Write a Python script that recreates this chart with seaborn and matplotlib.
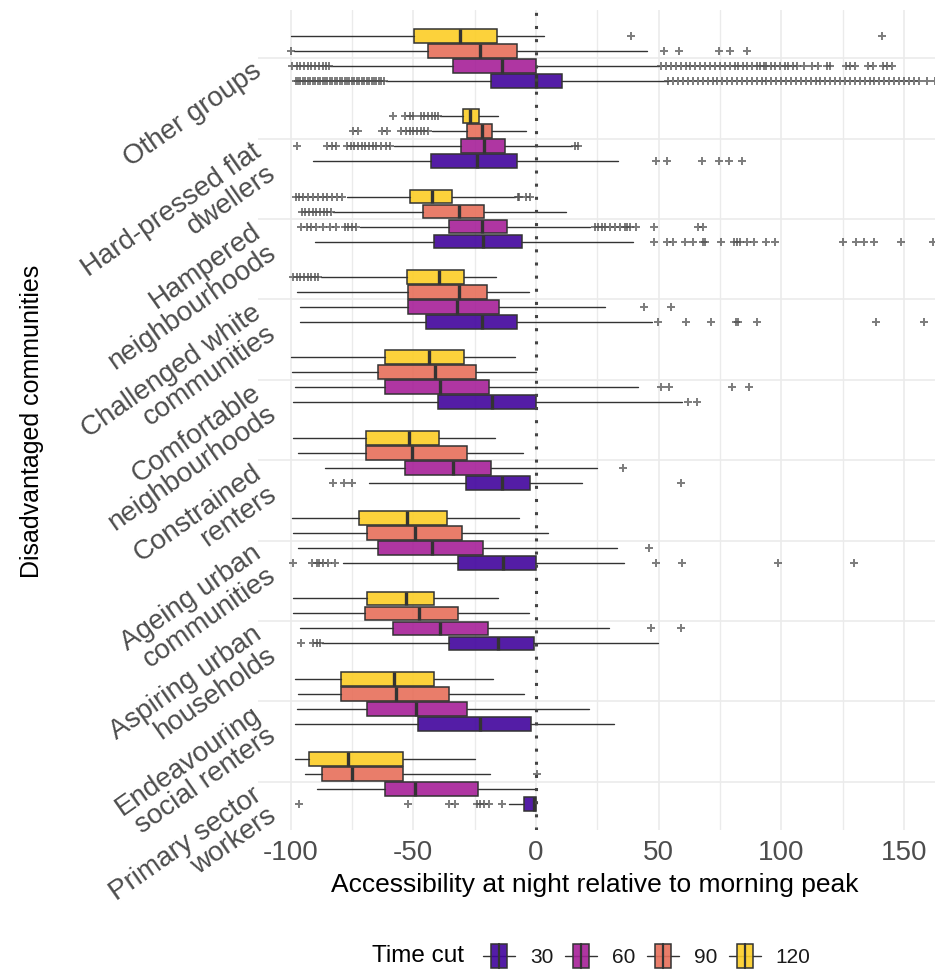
import matplotlib
matplotlib.use("Agg")
import matplotlib.pyplot as plt
import seaborn as sns
from matplotlib.patches import Rectangle
from matplotlib.lines import Line2D
from matplotlib.legend_handler import HandlerBase
from matplotlib.ticker import FixedLocator

sns.set_theme(style="whitegrid")
plt.rcParams["font.family"] = ["Liberation Sans", "DejaVu Sans"]
plt.rcParams["axes.unicode_minus"] = False

# ---------------- data ----------------
categories = [
    "Other groups", "Hard-pressed flat\ndwellers", "Hampered\nneighbourhoods",
    "Challenged white\ncommunities", "Comfortable\nneighbourhoods", "Constrained\nrenters",
    "Ageing urban\ncommunities", "Aspiring urban\nhouseholds", "Endeavouring\nsocial renters",
    "Primary sector\nworkers",
]
time_cuts = ["30", "60", "90", "120"]

# time cut 30
lo_30 = [-61, -90.8, -90.1, -96.2, -98.9, -68, -78.5, -87.4, -98.2, -10.9]
q1_30 = [-18.5, -42.8, -41.5, -44.8, -40.1, -28.5, -31.9, -35.3, -48, -4.9]
med_30 = [0, -24.2, -21.5, -22.1, -18.1, -14, -13.3, -15.4, -22.8, -0.6]
q3_30 = [10.5, -7.6, -5.8, -7.6, 0, -2.3, 0, -0.8, -2.2, 0]
hi_30 = [54, 33.6, 39.7, 47.2, 59.4, 18.9, 35.9, 49.9, 31.8, 0]
# time cut 60
lo_60 = [-84, -58, -71.7, -96.2, -98.2, -86, -96.9, -96.2, -97.6, -89.4]
q1_60 = [-34, -30.6, -35.3, -52, -61.6, -53.4, -64.3, -58.2, -68.8, -61.6]
med_60 = [-14, -21.1, -22.1, -32.3, -39.1, -33.7, -42.5, -39.1, -48.9, -49.1]
q3_60 = [0, -12.4, -11.7, -15.1, -19, -18.5, -21.7, -19.7, -27.9, -23.8]
hi_60 = [50.3, 14.8, 22, 28.1, 41.7, 25.1, 33.1, 29.8, 21.7, 0]
# time cut 90
lo_90 = [-98.5, -42.5, -82.6, -97.6, -99.6, -96.9, -98.9, -98.9, -96.9, -94.2]
q1_90 = [-44, -27.9, -45.9, -52, -64.3, -69.4, -68.8, -69.7, -79.6, -87.1]
med_90 = [-22.8, -21.9, -31.4, -31.4, -41.2, -50.4, -49.3, -47.7, -57.2, -74.9]
q3_90 = [-7.6, -17.8, -21.2, -19.9, -24.5, -27.9, -30, -31.9, -35.3, -54.1]
hi_90 = [45.1, -4.1, 12.1, -2.7, 0, -5.4, 4.8, -2.7, -4.8, -18.8]
# time cut 120
lo_120 = [-100, -39.1, -77.2, -87.5, -100, -98.9, -99.6, -98.9, -98.2, -98.2]
q1_120 = [-49.6, -29.9, -51.4, -52.7, -61.6, -69.4, -72.2, -69, -79.6, -92.4]
med_120 = [-31, -26.9, -42.3, -39.5, -43.5, -51.8, -52.7, -53.1, -57.9, -76.5]
q3_120 = [-15.8, -23.1, -34.1, -29.4, -29.2, -39.5, -36.2, -41.5, -41.5, -54.1]
hi_120 = [3.4, -15.4, -8.5, -16.3, -8.6, -16.7, -6.8, -15.4, -17.4, -24.9]

# outliers, one list per category
fliers_30 = [
    [-98, -97, -96, -95, -94, -93, -92, -91, -90, -89, -88, -87, -86, -85, -84, -83, -82, -81,
     -80, -79, -78, -77, -76, -75, -74, -73, -72, -71, -70, -69, -68, -67, -66, -65, -64, -63, -62,
     54, 56, 58, 60, 62, 64, 66, 68, 70, 72, 74, 76, 78, 80, 82, 84, 86, 88, 90, 92, 94, 96, 98,
     100, 102, 104, 106, 108, 110, 112, 114, 116, 118, 120, 122, 124, 126, 128, 130, 132, 134,
     136, 138, 140, 142, 144, 146, 148, 150, 152, 154, 156, 159.4, 162.6],
    [48.9, 53.5, 67.8, 74.6, 78.7, 84],
    [48.2, 53.3, 56, 60.7, 63.9, 68, 68.9, 75.3, 80.7, 82, 83.2, 85.9, 88.9, 94, 97.4, 125,
     130.5, 133.8, 137.9, 148.7, 162],
    [49.6, 61, 71.2, 81.5, 82.5, 90.1, 138.6, 158.2],
    [61.8, 65.8],
    [-82.6, -78.1, -75.1, 59.1],
    [-98.9, -91.4, -89.4, -88.3, -86.7, -84.7, -81.9, 48.9, 59.6, 98.8, 129.8],
    [-95.9, -90.8, -89.4, -88],
    [],
    [-96.6, -52, -35.5, -33, -24.2, -22.8, -21.2, -19, -14],
]
fliers_60 = [
    [-99.6, -97.5, -96, -94.5, -93, -91.5, -90, -88.5, -87, -85.5, -84.5,
     51, 53, 55, 57, 59, 61, 63, 65, 67, 69, 71, 73, 75, 77, 79, 81, 82.5, 84.5, 85.9, 87.9,
     90, 91.5, 93, 94, 96, 97.4, 99.5, 101.5, 102.9, 104.9, 106.3, 109.2, 112.4, 115.1, 118.5,
     119.9, 126.4, 128, 130, 135.5, 137.5, 141.3, 143, 145],
    [-97.3, -85.3, -83.3, -81.3, -77, -75.5, -74, -72.5, -71, -69.5, -68, -66.5, -65, -63,
     -61, -59.5, 16, 17.2],
    [-95.6, -93.5, -91.5, -89.5, -87, -84, -81.5, -78, -76.5, -75, -73.5,
     24, 25.4, 26.8, 28.1, 30.2, 32.2, 34.2, 36.3, 37.3, 38.3, 40.8, 48.2, 66.2, 68.2],
    [44.2, 55],
    [51, 54.3, 79.9, 86.7],
    [35.5],
    [46.2],
    [46.9, 59.1],
    [],
    [],
]
fliers_90 = [
    [-100, 52.3, 58.3, 74.6, 79.2, 86.0],
    [-74.7, -72.4, -62.9, -60.9, -54.8, -53, -51.5, -50, -48.5, -47, -45.5, -44],
    [-95.5, -94, -92.5, -91, -89.5, -88, -86.5, -85, -83.5],
    [], [], [], [], [], [],
    [0.3],
]
fliers_120 = [
    [38.7, 141],
    [-58.2, -53.4, -51.4, -50, -47, -45.5, -44, -42.5, -41, -40],
    [-98, -96.5, -95, -93, -91, -89, -87, -85, -83, -81, -79, -7.3, -6.8, -4, -2.5],
    [-99, -97.5, -96, -94.5, -93, -91.5, -90, -88.7],
    [], [], [], [], [], [],
]

x_ticks = [-100, -50, 0, 50, 100, 150]
x_minor = [-75, -25, 25, 75, 125]

# ---------------- styling ----------------
cmap = sns.color_palette("plasma", as_cmap=True)
hue_colors = [cmap(v) for v in (0.1, 0.3667, 0.6333, 0.9)]
hue_offsets = [0.28, 0.0933, -0.0933, -0.28]   # y inverted: 30 lowest, 120 highest
box_h = 0.172
edge = "#333333"

W, H = 935, 972
fig = plt.figure(figsize=(W / 100, H / 100), dpi=100)
fig.patch.set_facecolor("white")
ax = fig.add_axes([258 / W, 1 - 830 / H, 1 - 258 / W, 820 / H])
ax.set_facecolor("white")

series = [
    (lo_30, q1_30, med_30, q3_30, hi_30, fliers_30),
    (lo_60, q1_60, med_60, q3_60, hi_60, fliers_60),
    (lo_90, q1_90, med_90, q3_90, hi_90, fliers_90),
    (lo_120, q1_120, med_120, q3_120, hi_120, fliers_120),
]

for k, (lo, q1, md, q3, hi, fl) in enumerate(series):
    stats = []
    for i in range(len(categories)):
        stats.append(dict(whislo=lo[i], q1=q1[i], med=md[i], q3=q3[i], whishi=hi[i],
                          fliers=fl[i], label=categories[i]))
    pos = [i + hue_offsets[k] for i in range(len(categories))]
    fc = (*hue_colors[k][:3], 0.9)
    ax.bxp(stats, positions=pos, widths=box_h, orientation="horizontal",
           patch_artist=True, showcaps=False, manage_ticks=False,
           boxprops=dict(facecolor=fc, edgecolor=edge, linewidth=1.1),
           medianprops=dict(color=edge, linewidth=2.4, solid_capstyle="butt"),
           whiskerprops=dict(color=edge, linewidth=1.0),
           flierprops=dict(marker="+", markersize=5.5, markeredgecolor="#505050",
                           markeredgewidth=1.4, alpha=0.75, linestyle="none"))

ax.axvline(0, color="#444444", linewidth=2.2, linestyle=(0, (1, 3.3)), zorder=5)

ax.set_xlim(-113.3, 162.7)
ax.set_ylim(9.6, -0.6)
ax.set_xticks(x_ticks)
ax.xaxis.set_minor_locator(FixedLocator(x_minor))
ax.set_xticklabels([str(t) for t in x_ticks], fontsize=20, color="#4D4D4D")
ax.set_yticks(range(len(categories)))
ax.set_yticklabels(categories, fontsize=20, color="#4D4D4D", rotation=35,
                   ha="right", va="top", rotation_mode="anchor", linespacing=1.0)
ax.tick_params(axis="both", which="both", length=0)
ax.tick_params(axis="x", pad=7)
ax.tick_params(axis="y", pad=5)
ax.grid(True, which="major", axis="both", color="#EBEBEB", linewidth=1.2)
ax.grid(True, which="minor", axis="x", color="#EBEBEB", linewidth=1.0)
ax.set_axisbelow(True)
for s in ax.spines.values():
    s.set_visible(False)

fig.text(595 / W, 1 - 885 / H, "Accessibility at night relative to morning peak",
         fontsize=19, color="black", ha="center", va="center")
fig.text(32 / W, 1 - 421 / H, "Disadvantaged communities", fontsize=18,
         color="black", ha="center", va="center", rotation=90)


# ---------------- legend ----------------
class BoxKeyHandler(HandlerBase):
    def create_artists(self, legend, orig_handle, xdescent, ydescent, width, height,
                       fontsize, trans):
        x0, y0 = -xdescent, -ydescent
        cy = y0 + height / 2
        bw = width * 0.5
        wl = Line2D([x0, x0 + width], [cy, cy], color=edge, lw=1.0, transform=trans)
        rect = Rectangle((x0 + (width - bw) / 2, y0), bw, height,
                         facecolor=orig_handle.get_facecolor(), edgecolor=edge,
                         lw=1.1, transform=trans)
        med = Line2D([x0 + width / 2] * 2, [y0, y0 + height], color=edge, lw=1.6,
                     transform=trans)
        return [wl, rect, med]


handles = [Rectangle((0, 0), 1, 1, facecolor=(*c[:3], 0.9)) for c in hue_colors]
leg = fig.legend(handles, time_cuts, loc="center left",
                 bbox_to_anchor=(483 / W, 1 - 956 / H), ncol=4, frameon=False,
                 fontsize=15, handler_map={Rectangle: BoxKeyHandler()},
                 handlelength=1.54, handleheight=1.35, handletextpad=0.72,
                 columnspacing=0.55, borderpad=0, borderaxespad=0)
for t in leg.get_texts():
    t.set_color("#1A1A1A")
fig.text(372 / W, 1 - 956 / H, "Time cut", fontsize=17.5, color="black",
         ha="left", va="center")

fig.savefig("out.png", dpi=100, facecolor="white")
